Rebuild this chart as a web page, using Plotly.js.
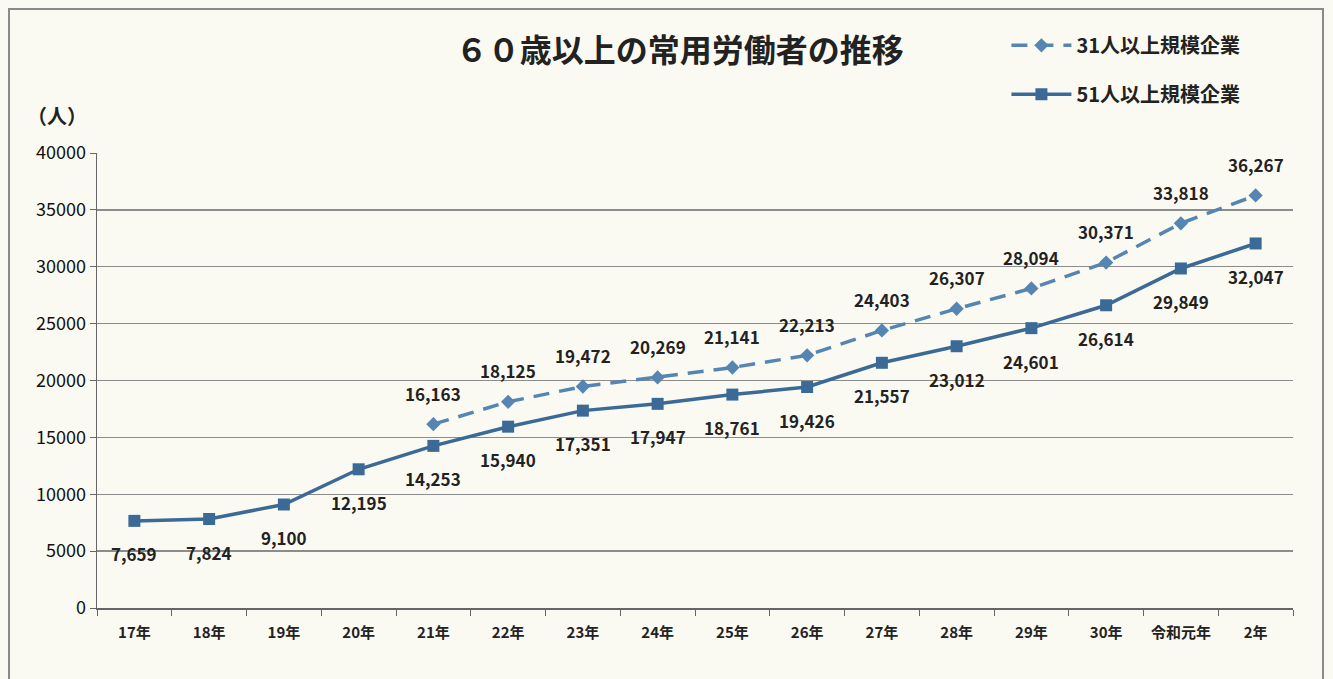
<!DOCTYPE html>
<html>
<head>
<meta charset="utf-8">
<script src="https://cdn.plot.ly/plotly-3.0.1.min.js"></script>
<style>
  html, body { margin: 0; padding: 0; background: #fbfaf2; }
  #frame { position: absolute; left: 8px; top: 8px; width: 1316px; height: 690px; border: 2px solid #8a8a8a; box-sizing: border-box; }
  #chart { position: absolute; left: 0; top: 0; width: 1333px; height: 679px; }
</style>
</head>
<body>
<div id="frame"></div>
<div id="chart"></div>
<script>
const categories = ["17年","18年","19年","20年","21年","22年","23年","24年","25年","26年","27年","28年","29年","30年","令和元年","2年"];
const series51 = [7659, 7824, 9100, 12195, 14253, 15940, 17351, 17947, 18761, 19426, 21557, 23012, 24601, 26614, 29849, 32047];
const series31 = [null, null, null, null, 16163, 18125, 19472, 20269, 21141, 22213, 24403, 26307, 28094, 30371, 33818, 36267];
const name31 = "31人以上規模企業";
const name51 = "51人以上規模企業";
const yTicks = [0, 5000, 10000, 15000, 20000, 25000, 30000, 35000, 40000];

const FONT = "'Noto Sans CJK JP', 'Noto Sans', sans-serif";
const fmt = v => v.toLocaleString('en-US');

const annotations = [];
series51.forEach((v, i) => {
  if (v == null) return;
  annotations.push({x: categories[i], y: v, xref: 'x', yref: 'y', text: fmt(v), showarrow: false,
    yshift: -33, font: {family: FONT, size: 17, color: '#222', weight: 'bold'}});
});
series31.forEach((v, i) => {
  if (v == null) return;
  annotations.push({x: categories[i], y: v, xref: 'x', yref: 'y', text: fmt(v), showarrow: false,
    yshift: 31, font: {family: FONT, size: 17, color: '#222', weight: 'bold'}});
});
annotations.push({xref: 'paper', yref: 'paper', x: -0.06, y: 1.0835, xanchor: 'left', yanchor: 'middle',
  text: '（人）', showarrow: false, font: {family: FONT, size: 20, color: '#222', weight: 'bold'}});

const data = [
  {x: categories, y: series31, name: name31, type: 'scatter', mode: 'lines+markers',
   line: {color: '#5585b3', width: 3.5, dash: '16px,10px'},
   marker: {symbol: 'diamond', size: 11, color: '#5585b3'},
   legendgroup: 'a', connectgaps: false},
  {x: categories, y: series51, name: name51, type: 'scatter', mode: 'lines+markers',
   line: {color: '#3b6a97', width: 3.5},
   marker: {symbol: 'square', size: 12, color: '#3b6a97'},
   legendgroup: 'b'}
];

const layout = {
  width: 1333, height: 679,
  paper_bgcolor: 'rgba(0,0,0,0)', plot_bgcolor: 'rgba(0,0,0,0)',
  margin: {l: 97, r: 40, t: 153, b: 71, autoexpand: false},
  title: {text: '６０歳以上の常用労働者の推移', x: 0.51, xanchor: 'center', y: 0.925, yanchor: 'middle',
    font: {family: FONT, size: 32, color: '#222', weight: 'bold'}},
  showlegend: true,
  legend: {xref: 'container', yref: 'container', x: 0.755, y: 0.962, xanchor: 'left', yanchor: 'top',
    bgcolor: 'rgba(0,0,0,0)', itemwidth: 60,
    traceorder: 'grouped', tracegroupgap: 20,
    font: {family: FONT, size: 20, color: '#222', weight: 'bold'}},
  xaxis: {type: 'category', categoryorder: 'array', categoryarray: categories,
    tickson: 'boundaries', ticks: 'outside', ticklen: 6, tickcolor: '#666',
    showline: true, linecolor: '#666', linewidth: 1.5, showgrid: false, zeroline: false,
    range: [-0.5, categories.length - 0.5], ticklabelstandoff: 10,
    tickfont: {family: FONT, size: 15, color: '#222', weight: 'bold'}},
  yaxis: {range: [0, 40000], tickvals: yTicks, ticktext: yTicks.map(String),
    ticks: 'outside', ticklen: 6, tickcolor: '#666',
    showline: true, linecolor: '#666', linewidth: 1.5,
    showgrid: true, gridcolor: '#8c8c8c', gridwidth: 1.3, zeroline: false,
    tickfont: {family: FONT, size: 18, color: '#111'}},
  annotations: annotations
};

Plotly.newPlot('chart', data, layout, {displayModeBar: false, staticPlot: true});
</script>
</body>
</html>
